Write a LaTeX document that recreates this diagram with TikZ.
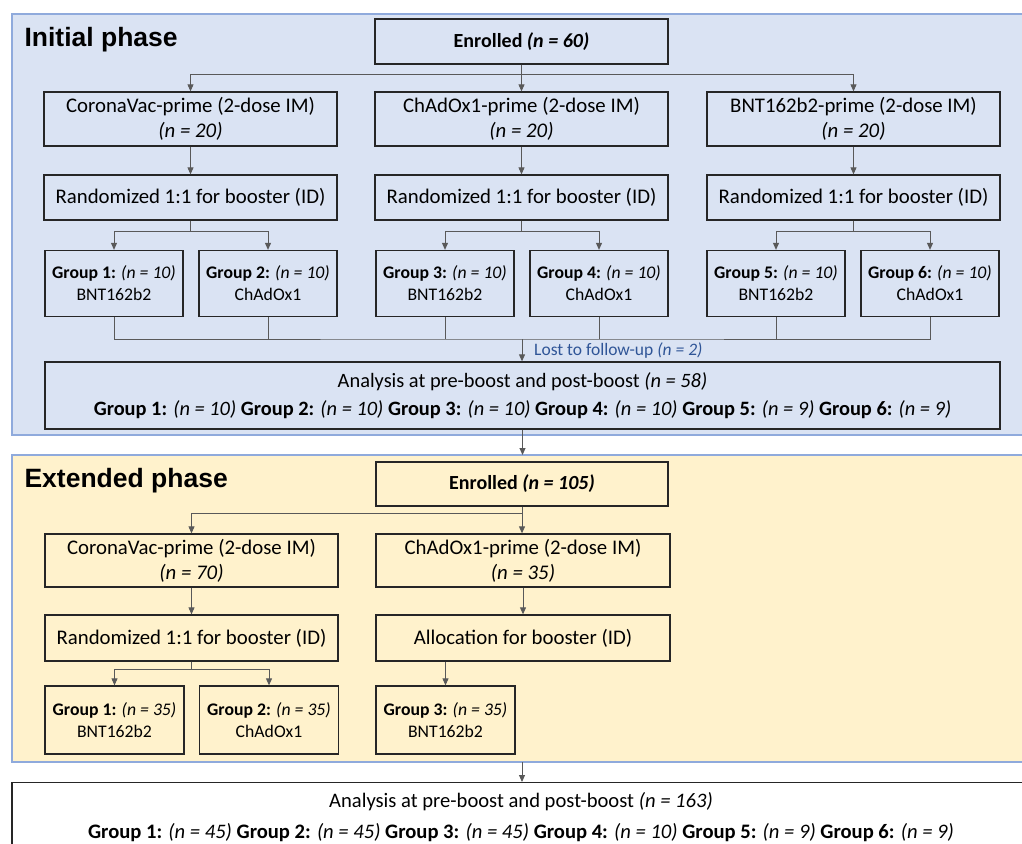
\documentclass[tikz,border=0pt]{standalone}
\usepackage{fontspec}
\setmainfont{Carlito}
\newfontfamily\phasefont{Liberation Sans}
\usetikzlibrary{arrows.meta}
\definecolor{paneblue}{HTML}{DAE3F3}
\definecolor{paneyellow}{HTML}{FFF2CC}
\definecolor{paneline}{HTML}{8FAADC}
\definecolor{lostblue}{HTML}{2F5597}

\begin{document}
\begin{tikzpicture}[x=1pt,y=-1pt,
	box/.style={draw=black!85,line width=1.3pt,align=center,inner sep=0,font=\fontsize{20.8}{25}\selectfont},
	grp/.style={box,minimum width=138,minimum height=66,font=\fontsize{17.7}{22}\selectfont},
	link/.style={draw=black!65,line width=0.9pt},
	arr/.style={link,-{Triangle[length=7pt,width=6pt]}},
	phase/.style={anchor=base west,font=\phasefont\bfseries\fontsize{26.5}{30}\selectfont}]
\useasboundingbox (0,0) rectangle (1022,843);
% initial phase
\filldraw[fill=paneblue,draw=paneline,line width=1.2pt] (12,14) rectangle (1035,435);
\node[phase] (ini) at (21,47) {Initial phase};
\node[box,minimum width=293,minimum height=45,font=\fontsize{20}{25}\selectfont] (enr1) at (521.5,41.5) {\textbf{Enrolled \textit{(n = 60)}}};
\node[box,minimum width=293,minimum height=54] (cv1) at (190.5,119) {CoronaVac-prime (2-dose IM)\\\textit{(n = 20)}};
\node[box,minimum width=293,minimum height=54] (chad1) at (521.5,119) {ChAdOx1-prime (2-dose IM)\\\textit{(n = 20)}};
\node[box,minimum width=293,minimum height=54] (bnt1) at (853.5,119) {BNT162b2-prime (2-dose IM)\\\textit{(n = 20)}};
\node[box,minimum width=293,minimum height=45] (ra1) at (190.5,197.5) {Randomized 1:1 for booster (ID)};
\node[box,minimum width=293,minimum height=45] (rb1) at (521.5,197.5) {Randomized 1:1 for booster (ID)};
\node[box,minimum width=293,minimum height=45] (rc1) at (853.5,197.5) {Randomized 1:1 for booster (ID)};
\foreach \i/\x/\v in {1/114/BNT162b2,2/268/ChAdOx1,3/445/BNT162b2,4/599/ChAdOx1,5/776/BNT162b2,6/930/ChAdOx1}
	\node[grp] (g\i) at (\x,283.5) {\textbf{Group \i:} \textit{(n = 10)}\\\v};
\node[box,minimum width=955,minimum height=67,font=\fontsize{20.4}{28}\selectfont] (ana1) at (522.5,395.5)
	{Analysis at pre-boost and post-boost \textit{(n = 58)}\\
	\textbf{Group 1:} \textit{(n = 10)} \textbf{Group 2:} \textit{(n = 10)} \textbf{Group 3:} \textit{(n = 10)} \textbf{Group 4:} \textit{(n = 10)} \textbf{Group 5:} \textit{(n = 9)} \textbf{Group 6:} \textit{(n = 9)}};
\draw[arr] (enr1.south) -- ++(0,10) -| (cv1.north);
\draw[arr] (enr1.south) -- ++(0,10) -| (bnt1.north);
\draw[arr] (enr1) -- (chad1);
\draw[arr] (cv1) -- (ra1);
\draw[arr] (chad1) -- (rb1);
\draw[arr] (bnt1) -- (rc1);
\foreach \r/\a/\b in {ra1/g1/g2,rb1/g3/g4,rc1/g5/g6} {
	\draw[arr] (\r.south) -- ++(0,11) -| (\a.north);
	\draw[arr] (\r.south) -- ++(0,11) -| (\b.north);
}
\coordinate (lost) at (522,339);
\draw[link] (g1.south) |- (lost) -| (g6.south);
\foreach \g in {g2,g3,g4,g5}
	\draw[link] (\g.south) -- (\g.south |- lost);
\draw[arr] (lost) -- (lost |- ana1.north);
\node[anchor=west,inner sep=0,text=lostblue,font=\fontsize{17.5}{20}\selectfont] (lostlbl) at (534,351) {Lost to follow-up \textit{(n = 2)}};
% extended phase
\filldraw[fill=paneyellow,draw=paneline,line width=1.2pt] (12,455) rectangle (1035,762);
\coordinate (extt) at (522,455);
\draw[arr] (ana1.south) -- (ana1.south |- extt);
\node[phase] (ext) at (21,487) {Extended phase};
\node[box,minimum width=292,minimum height=44,font=\fontsize{20}{25}\selectfont] (enr2) at (522,484) {\textbf{Enrolled \textit{(n = 105)}}};
\node[box,minimum width=293,minimum height=53] (cv2) at (191.5,560.5) {CoronaVac-prime (2-dose IM)\\\textit{(n = 70)}};
\node[box,minimum width=294,minimum height=53] (chad2) at (523,560.5) {ChAdOx1-prime (2-dose IM)\\\textit{(n = 35)}};
\node[box,minimum width=293,minimum height=46] (ra2) at (191.5,638) {Randomized 1:1 for booster (ID)};
\node[box,minimum width=294,minimum height=46] (alloc2) at (523,638) {Allocation for booster (ID)};
\node[grp,minimum width=139,minimum height=68] (h1) at (114.5,720) {\textbf{Group 1:} \textit{(n = 35)}\\BNT162b2};
\node[grp,minimum width=139,minimum height=68] (h2) at (269,720) {\textbf{Group 2:} \textit{(n = 35)}\\ChAdOx1};
\node[grp,minimum width=139,minimum height=68] (h3) at (445.5,720) {\textbf{Group 3:} \textit{(n = 35)}\\BNT162b2};
\draw[arr] (enr2.south) -- ++(0,7) -| (cv2.north);
\draw[arr] (enr2.south) -- (enr2.south |- chad2.north);
\draw[arr] (cv2) -- (ra2);
\draw[arr] (chad2) -- (alloc2);
\draw[arr] (ra2.south) -- ++(0,8) -| (h1.north);
\draw[arr] (ra2.south) -- ++(0,8) -| (h2.north);
\draw[arr] (h3.north |- alloc2.south) -- (h3.north);
% final analysis
\node[box,fill=white,anchor=north,minimum width=1018,minimum height=68,font=\fontsize{20.6}{31}\selectfont] (fin) at (521,782)
	{Analysis at pre-boost and post-boost \textit{(n = 163)}\\
	\textbf{Group 1:} \textit{(n = 45)} \textbf{Group 2:} \textit{(n = 45)} \textbf{Group 3:} \textit{(n = 45)} \textbf{Group 4:} \textit{(n = 10)} \textbf{Group 5:} \textit{(n = 9)} \textbf{Group 6:} \textit{(n = 9)}};
\coordinate (extb) at (522,762);
\draw[arr] (extb) -- (extb |- fin.north);
\end{tikzpicture}
\end{document}
